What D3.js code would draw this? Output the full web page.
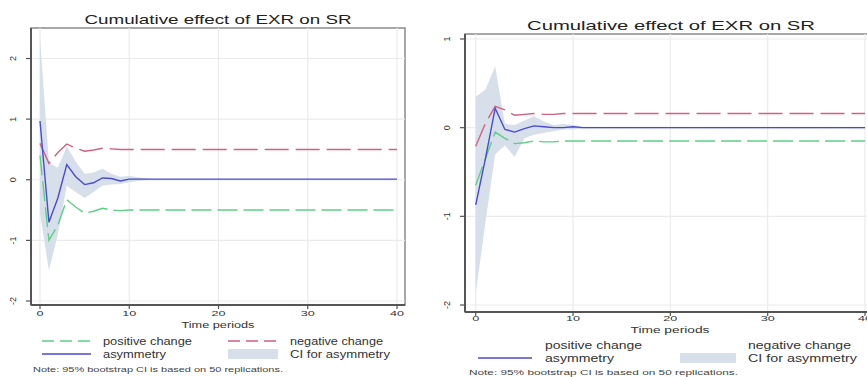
<!DOCTYPE html>
<html>
<head>
<meta charset="utf-8">
<script src="https://cdn.jsdelivr.net/npm/d3@7"></script>
<style>
  body { margin: 0; background: #fff; }
  svg { display: block; font-family: "Liberation Sans", Arial, sans-serif; }
</style>
</head>
<body>
<svg id="chart" width="867" height="377"></svg>
<script>
// time periods 0..40
const periods = d3.range(0, 41);
const xTicks = [0, 10, 20, 30, 40];

// left panel
const leftYTicks = [-2, -1, 0, 1, 2];
const leftPositive = [0.40, -1.00, -0.75, -0.33, -0.45, -0.55, -0.52, -0.47, -0.50, -0.51, -0.50];
const leftNegative = [0.60, 0.27, 0.45, 0.59, 0.52, 0.47, 0.49, 0.52, 0.51, 0.50, 0.50];
const leftAsym = [0.97, -0.70, -0.30, 0.25, 0.05, -0.08, -0.05, 0.03, 0.02, -0.02, 0.01, 0.01];
const leftCiUpper = [2.35, 0.28, 0.20, 0.55, 0.30, 0.10, 0.12, 0.18, 0.10, 0.05, 0.06, 0.04, 0.02, 0.01];
const leftCiLower = [-0.55, -1.50, -0.90, -0.10, -0.20, -0.30, -0.20, -0.10, -0.08, -0.07, -0.04, -0.02, -0.01, -0.01];

// right panel
const rightYTicks = [-2, -1, 0, 1];
const rightPositive = [-0.65, -0.35, -0.05, -0.12, -0.18, -0.17, -0.15, -0.16, -0.16, -0.15];
const rightNegative = [-0.21, 0.05, 0.24, 0.20, 0.14, 0.15, 0.16, 0.15, 0.15, 0.16];
const rightAsym = [-0.87, -0.35, 0.22, -0.02, -0.05, -0.01, 0.02, 0.01, 0.00, 0.00, 0.01, 0.00];
const rightCiUpper = [0.35, 0.43, 0.69, 0.04, 0.03, 0.08, 0.13, 0.07, 0.03, 0.04, 0.03, 0.01];
const rightCiLower = [-1.87, -1.07, -0.30, -0.20, -0.33, -0.12, -0.08, -0.06, -0.04, -0.02, -0.02, -0.01];

// hold the last read value out to period 40
function extend(arr) {
  return periods.map(p => p < arr.length ? arr[p] : arr[arr.length - 1]);
}

const titleText = 'Cumulative effect of EXR on SR';
const noteText = 'Note: 95% bootstrap CI is based on 50 replications.';
const colors = { pos: '#5fcf87', neg: '#d2607f', asym: '#4b4bcf', ci: '#d7dfeb' };

const svg = d3.select('#chart');

function drawPanel(cfg) {
  const g = svg.append('g');
  const x = d3.scaleLinear().domain([0, 40]).range(cfg.xRange);
  const y = d3.scaleLinear().domain(cfg.yDomain).range(cfg.yRange);
  const f = cfg.frame;

  // plot region
  g.append('rect')
    .attr('x', f.x0).attr('y', f.y0)
    .attr('width', f.x1 - f.x0).attr('height', f.y1 - f.y0)
    .attr('fill', '#fff').attr('stroke', '#8a8a8a').attr('stroke-width', 1.5);

  // grid
  g.selectAll('.hgrid').data(cfg.yTicks).enter().append('line')
    .attr('x1', f.x0).attr('x2', f.x1)
    .attr('y1', d => y(d)).attr('y2', d => y(d))
    .attr('stroke', '#ebebeb').attr('stroke-width', 1.2);
  g.selectAll('.vgrid').data(xTicks).enter().append('line')
    .attr('x1', d => x(d)).attr('x2', d => x(d))
    .attr('y1', f.y0).attr('y2', f.y1)
    .attr('stroke', '#ebebeb').attr('stroke-width', 1.2);

  // CI band
  const lower = extend(cfg.ciLower), upper = extend(cfg.ciUpper);
  g.append('path')
    .datum(periods)
    .attr('fill', colors.ci)
    .attr('d', d3.area().x(d => x(d)).y0(d => y(lower[d])).y1(d => y(upper[d])));

  const line = arr => d3.line().x(d => x(d)).y(d => y(arr[d]));
  const pos = extend(cfg.positive), neg = extend(cfg.negative), asym = extend(cfg.asym);

  g.append('path').datum(periods).attr('d', line(pos))
    .attr('fill', 'none').attr('stroke', colors.pos).attr('stroke-width', 1.4)
    .attr('stroke-dasharray', '20,6');
  g.append('path').datum(periods).attr('d', line(neg))
    .attr('fill', 'none').attr('stroke', colors.neg).attr('stroke-width', 1.4)
    .attr('stroke-dasharray', '24,7');
  g.append('path').datum(periods).attr('d', line(asym))
    .attr('fill', 'none').attr('stroke', colors.asym).attr('stroke-width', 1.4);

  // axes lines
  g.append('line').attr('x1', f.x0).attr('x2', f.x0).attr('y1', f.y0).attr('y2', f.y1)
    .attr('stroke', '#555').attr('stroke-width', 2);
  g.append('line').attr('x1', f.x0).attr('x2', f.x1).attr('y1', f.y1).attr('y2', f.y1)
    .attr('stroke', '#555').attr('stroke-width', 2);

  // y ticks + rotated labels
  g.selectAll('.ytick').data(cfg.yTicks).enter().append('line')
    .attr('x1', f.x0 - 5).attr('x2', f.x0)
    .attr('y1', d => y(d)).attr('y2', d => y(d))
    .attr('stroke', '#555').attr('stroke-width', 1.2);
  g.selectAll('.ylab').data(cfg.yTicks).enter().append('text')
    .attr('transform', d => `translate(${f.x0 - cfg.yLabelOff},${y(d)}) rotate(-90)`)
    .attr('text-anchor', 'middle').attr('dy', '0.35em')
    .attr('font-size', 9).attr('fill', '#333')
    .text(d => d);

  // x ticks + labels
  g.selectAll('.xtick').data(xTicks).enter().append('line')
    .attr('x1', d => x(d)).attr('x2', d => x(d))
    .attr('y1', f.y1).attr('y2', f.y1 + 4)
    .attr('stroke', '#555').attr('stroke-width', 1.2);
  g.selectAll('.xlab').data(xTicks).enter().append('text')
    .attr('x', d => x(d)).attr('y', cfg.xLabelY)
    .attr('text-anchor', 'middle').attr('font-size', 8).attr('fill', '#333')
    .attr('textLength', d => String(d).length * 7).attr('lengthAdjust', 'spacingAndGlyphs')
    .text(d => d);
  g.append('text')
    .attr('x', cfg.axisTitleX).attr('y', cfg.axisTitleY)
    .attr('text-anchor', 'middle').attr('font-size', 8.5).attr('fill', '#333')
    .attr('textLength', cfg.axisTitleLen).attr('lengthAdjust', 'spacingAndGlyphs')
    .text('Time periods');

  // title
  g.append('text')
    .attr('x', cfg.titleX).attr('y', cfg.titleY)
    .attr('text-anchor', 'middle').attr('font-size', 13).attr('fill', '#222')
    .attr('textLength', cfg.titleLen).attr('lengthAdjust', 'spacingAndGlyphs')
    .text(titleText);

  // legend
  const L = cfg.legend;
  if (L.showRow1Keys) {
    g.append('line').attr('x1', L.k1[0]).attr('x2', L.k1[1]).attr('y1', L.r1).attr('y2', L.r1)
      .attr('stroke', colors.pos).attr('stroke-width', 1.4).attr('stroke-dasharray', '12,6');
    g.append('line').attr('x1', L.k2[0]).attr('x2', L.k2[1]).attr('y1', L.r1).attr('y2', L.r1)
      .attr('stroke', colors.neg).attr('stroke-width', 1.4).attr('stroke-dasharray', '12,6');
  }
  g.append('line').attr('x1', L.k1[0]).attr('x2', L.k1[1]).attr('y1', L.r2).attr('y2', L.r2)
    .attr('stroke', colors.asym).attr('stroke-width', 1.4);
  g.append('rect').attr('x', L.k2[0]).attr('y', L.r2 - 5)
    .attr('width', L.k2[1] - L.k2[0]).attr('height', 10).attr('fill', colors.ci);
  const labels = [
    ['positive change', L.t1, L.r1, L.w[0]], ['negative change', L.t2, L.r1, L.w[1]],
    ['asymmetry', L.t1, L.r2, L.w[2]], ['CI for asymmetry', L.t2, L.r2, L.w[3]]
  ];
  g.selectAll('.leg').data(labels).enter().append('text')
    .attr('x', d => d[1]).attr('y', d => d[2]).attr('dy', '0.35em')
    .attr('font-size', 10).attr('fill', '#333')
    .attr('textLength', d => d[3]).attr('lengthAdjust', 'spacingAndGlyphs')
    .text(d => d[0]);
  g.append('text')
    .attr('x', L.noteX).attr('y', L.noteY).attr('dy', '0.35em')
    .attr('font-size', 7.5).attr('fill', '#444')
    .attr('textLength', L.noteLen).attr('lengthAdjust', 'spacingAndGlyphs')
    .text(noteText);
}

drawPanel({
  xRange: [40, 397], yDomain: [-2, 2], yRange: [301, 58.5],
  frame: { x0: 31, x1: 405, y0: 28, y1: 305 },
  yTicks: leftYTicks, yLabelOff: 18,
  positive: leftPositive, negative: leftNegative, asym: leftAsym,
  ciUpper: leftCiUpper, ciLower: leftCiLower,
  xLabelY: 316, axisTitleX: 218, axisTitleY: 328, axisTitleLen: 73,
  titleX: 218, titleY: 24, titleLen: 267,
  legend: { showRow1Keys: true, k1: [42, 91], k2: [228, 278], t1: 103, t2: 290,
            r1: 341, r2: 354, w: [89, 93, 63, 100], noteX: 33, noteY: 369, noteLen: 250 }
});

drawPanel({
  xRange: [475.7, 865], yDomain: [-2, 1], yRange: [305, 39],
  frame: { x0: 465, x1: 880, y0: 34, y1: 312 },
  yTicks: rightYTicks, yLabelOff: 18,
  positive: rightPositive, negative: rightNegative, asym: rightAsym,
  ciUpper: rightCiUpper, ciLower: rightCiLower,
  xLabelY: 321, axisTitleX: 670, axisTitleY: 333, axisTitleLen: 79,
  titleX: 671, titleY: 30, titleLen: 288,
  legend: { showRow1Keys: false, k1: [478, 532], k2: [680, 736], t1: 545, t2: 748,
            r1: 345, r2: 358, w: [97, 103, 69, 109], noteX: 469, noteY: 372, noteLen: 269 }
});
</script>
</body>
</html>
